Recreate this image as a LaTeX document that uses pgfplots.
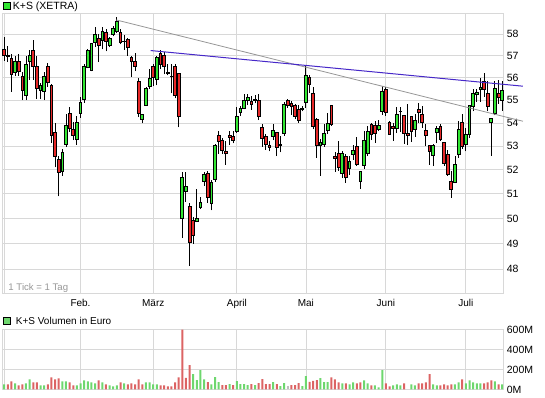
\documentclass[border=0pt]{standalone}
\usepackage{pgfplots}
\pgfplotsset{compat=1.18}
\usepackage{pgfplotstable}
\usepackage{fontspec}
\setmainfont{Liberation Sans}

\definecolor{cgreen}{RGB}{50,230,50}
\definecolor{cred}{RGB}{230,40,40}
\definecolor{vgreen}{RGB}{110,215,110}
\definecolor{vred}{RGB}{220,100,100}
\definecolor{vgray}{RGB}{190,190,190}
\definecolor{gridc}{RGB}{216,216,216}
\definecolor{blueline}{RGB}{70,40,200}
\definecolor{grayline}{RGB}{150,150,150}

% volume in million euro
\pgfplotstableread{
x v
0 51
3 61
6 61
7 102
10 41
11 41
16 81
17 81
20 41
21 61
22 92
23 81
24 71
25 61
27 71
29 41
30 31
31 41
33 61
39 71
40 71
41 51
42 51
52 153
53 93
54 193
55 100
57 50
58 123
59 73
62 53
64 83
65 53
66 53
67 43
69 43
74 73
76 33
77 63
82 33
83 133
87 113
88 73
89 73
93 61
95 51
96 71
99 92
100 61
102 41
103 20
104 193
107 41
108 51
109 41
112 51
113 41
118 51
119 41
124 51
125 71
127 61
128 92
129 71
130 61
131 61
135 81
137 51
}\volG

\pgfplotstableread{
x v
1 51
2 81
4 41
5 51
8 71
9 71
12 51
13 122
14 102
15 112
18 71
19 41
26 92
28 51
32 71
34 51
35 61
36 51
37 102
38 51
43 41
44 41
45 31
46 31
47 71
48 122
49 598
50 117
51 243
56 73
60 43
61 43
63 43
68 53
70 63
71 103
72 53
73 53
75 53
79 43
80 43
81 63
84 77
85 87
86 93
90 122
91 102
92 71
94 61
97 61
98 71
101 41
105 61
106 31
110 61
114 61
115 61
116 71
117 153
120 41
121 51
122 41
123 51
126 102
132 61
133 71
134 92
136 51
}\volR

\pgfplotstableread{
x v
78 33
}\volY

% one candle: colour, x, open, high, low, close
\newcommand\cndl[6]{%
  \pgfmathsetmacro\xa{#2-0.38}\pgfmathsetmacro\xb{#2+0.38}%
  \edef\temp{\noexpand\addplot[black, line width=0.9pt, mark=none, forget plot] coordinates {(#2,#5) (#2,#4)};%
    \noexpand\addplot[draw=black, fill=#1, line width=0.9pt, mark=none, forget plot] coordinates {(\xa,#3) (\xb,#3) (\xb,#6) (\xa,#6)} -- cycle;}%
  \temp}
\newcommand\cu[5]{\cndl{cgreen}{#1}{#2}{#3}{#4}{#5}}
\newcommand\cd[5]{\cndl{cred}{#1}{#2}{#3}{#4}{#5}}

\begin{document}
\begin{tikzpicture}[x=1pt,y=1pt]
\path (0,0) rectangle (545,398);

\begin{axis}[
  at={(2pt,105pt)}, anchor=south west,
  scale only axis, width=501.3pt, height=280pt,
  xmin=-0.6, xmax=137.3,
  ymode=log, ymin=47.09, ymax=59.0,
  clip=false,
  ytick={48,49,50,51,52,53,54,55,56,57,58},
  yticklabels={48,49,50,51,52,53,54,55,56,57,58},
  yticklabel pos=right,
  xtick={0,21,41,64,83,105,127},
  xticklabels={,Feb.,März,April,Mai,Juni,Juli},
  major tick length=0pt, tick style={draw=none},
  grid=major, major grid style={draw=gridc, line width=0.8pt},
  axis line style={draw=gridc, line width=0.8pt},
  yticklabel style={font=\fontsize{10.5}{12}\selectfont, text=black},
  xticklabel style={font=\fontsize{10}{12}\selectfont, text=black, yshift=-3pt, text height=7.5pt, text depth=2pt},
]
% x open high low close
\cd{0}{57.28}{57.85}{56.76}{57.03}
\cd{1}{57.00}{57.46}{56.71}{56.95}
\cd{2}{56.88}{57.10}{55.38}{56.14}
\cu{3}{56.23}{57.00}{56.07}{56.74}
\cd{4}{56.74}{57.10}{56.07}{56.30}
\cd{5}{56.05}{56.26}{55.00}{55.45}
\cu{6}{55.20}{57.00}{55.00}{56.60}
\cu{7}{56.76}{57.25}{55.90}{57.00}
\cd{8}{57.25}{57.75}{55.90}{56.50}
\cd{9}{56.53}{57.00}{55.05}{55.50}
\cu{10}{55.45}{55.75}{55.05}{55.65}
\cu{11}{55.38}{56.26}{55.00}{56.05}
\cd{12}{56.50}{56.65}{55.60}{55.80}
\cd{13}{55.65}{55.70}{53.15}{53.47}
\cd{14}{53.60}{54.00}{52.10}{52.54}
\cd{15}{52.42}{52.60}{50.90}{51.89}
\cu{16}{51.93}{52.87}{51.75}{52.75}
\cu{17}{53.07}{54.38}{52.97}{53.91}
\cd{18}{54.43}{54.70}{53.62}{53.74}
\cd{19}{53.70}{54.03}{53.26}{53.47}
\cu{20}{53.29}{54.29}{53.06}{54.00}
\cu{21}{54.40}{55.15}{54.22}{54.91}
\cu{22}{55.03}{56.60}{54.89}{56.50}
\cu{23}{56.45}{57.31}{56.42}{57.24}
\cu{24}{56.32}{57.60}{56.29}{57.55}
\cu{25}{57.60}{58.36}{57.40}{58.00}
\cd{26}{57.79}{58.03}{56.71}{57.48}
\cu{27}{57.70}{58.36}{57.30}{58.15}
\cd{28}{58.06}{58.25}{57.20}{57.66}
\cu{29}{57.48}{57.88}{57.40}{57.80}
\cu{30}{57.98}{58.40}{57.90}{58.25}
\cu{31}{58.13}{58.80}{58.06}{58.60}
\cd{32}{58.07}{58.25}{57.52}{57.63}
\cd{33}{57.68}{57.95}{57.28}{57.66}
\cd{34}{57.73}{57.80}{57.00}{57.39}
\cd{35}{56.91}{56.98}{56.05}{56.76}
\cd{36}{56.74}{57.14}{56.30}{56.50}
\cd{37}{55.85}{55.97}{54.25}{54.40}
\cu{38}{54.13}{54.40}{53.98}{54.35}
\cu{39}{54.78}{55.58}{54.74}{55.50}
\cu{40}{55.63}{56.40}{55.49}{55.97}
\cd{41}{56.50}{56.60}{55.65}{56.03}
\cu{42}{55.90}{57.00}{55.66}{56.94}
\cd{43}{57.09}{57.25}{56.38}{56.60}
\cd{44}{57.02}{57.16}{56.15}{56.53}
\cd{45}{56.25}{56.60}{56.10}{56.20}
\cd{46}{56.08}{56.60}{55.30}{56.05}
\cd{47}{56.50}{56.60}{55.08}{55.20}
\cd{48}{56.18}{56.20}{53.80}{54.27}
\cu{49}{50.00}{51.92}{49.22}{51.68}
\cu{50}{51.10}{51.92}{50.67}{51.30}
\cd{51}{50.48}{50.64}{48.14}{49.06}
\cd{52}{49.94}{50.04}{49.00}{49.32}
\cu{53}{49.87}{51.20}{49.85}{50.01}
\cu{54}{50.43}{50.88}{50.38}{50.66}
\cu{55}{51.52}{51.89}{51.33}{51.79}
\cd{56}{51.86}{51.96}{50.64}{50.84}
\cu{57}{50.60}{51.58}{50.33}{51.49}
\cu{58}{51.58}{53.10}{51.50}{53.04}
\cd{59}{53.47}{53.63}{52.66}{53.18}
\cd{60}{53.22}{53.34}{52.66}{52.82}
\cd{61}{52.78}{53.24}{52.20}{52.69}
\cd{62}{53.47}{53.63}{53.04}{53.37}
\cd{63}{53.40}{53.63}{53.12}{53.25}
\cu{64}{53.65}{54.70}{53.56}{54.26}
\cu{65}{54.47}{54.74}{54.29}{54.62}
\cu{66}{54.65}{55.26}{54.59}{55.00}
\cu{67}{54.97}{55.26}{54.78}{55.12}
\cd{68}{54.94}{55.18}{54.58}{54.80}
\cu{69}{55.00}{55.23}{54.85}{55.02}
\cd{70}{55.00}{55.26}{54.12}{54.26}
\cd{71}{53.79}{53.97}{52.97}{53.31}
\cd{72}{53.40}{53.53}{52.85}{53.07}
\cd{73}{53.04}{53.21}{52.78}{52.95}
\cu{74}{53.40}{53.93}{53.26}{53.66}
\cd{75}{53.59}{53.62}{52.57}{52.95}
\cu{76}{53.03}{53.44}{52.73}{53.06}
\cu{77}{53.53}{54.93}{53.44}{54.80}
\cd{78}{54.98}{55.03}{54.67}{54.78}
\cd{79}{54.85}{54.96}{54.35}{54.70}
\cd{80}{54.77}{54.83}{54.15}{54.28}
\cd{81}{54.57}{54.78}{54.00}{54.10}
\cu{82}{54.60}{54.76}{54.50}{54.62}
\cu{83}{54.88}{56.56}{54.65}{56.10}
\cd{84}{56.00}{56.14}{55.31}{55.72}
\cd{85}{55.31}{55.58}{53.72}{53.84}
\cd{86}{54.14}{54.22}{52.50}{53.04}
\cu{87}{53.01}{53.31}{51.74}{53.15}
\cu{88}{53.07}{53.93}{52.97}{53.56}
\cu{89}{53.66}{54.44}{53.51}{53.96}
\cd{90}{54.77}{54.78}{53.88}{53.92}
\cd{91}{52.57}{52.73}{51.92}{52.46}
\cd{92}{52.70}{53.20}{51.96}{52.08}
\cu{93}{51.85}{52.81}{51.66}{52.70}
\cd{94}{52.54}{52.65}{51.46}{51.66}
\cu{95}{52.05}{52.57}{51.80}{52.36}
\cu{96}{52.66}{53.04}{52.43}{52.83}
\cd{97}{52.97}{53.38}{52.16}{52.22}
\cu{98}{51.52}{51.96}{51.20}{51.93}
\cu{99}{52.16}{53.63}{52.05}{53.24}
\cu{100}{52.68}{53.88}{52.57}{53.63}
\cd{101}{53.93}{54.00}{53.26}{53.49}
\cd{102}{53.88}{54.07}{53.15}{53.56}
\cu{103}{53.71}{54.14}{53.63}{53.90}
\cu{104}{54.50}{55.62}{54.36}{55.38}
\cd{105}{55.46}{55.58}{54.30}{54.47}
\cd{106}{54.00}{54.07}{53.48}{53.51}
\cd{107}{53.86}{54.00}{53.22}{53.76}
\cu{108}{53.78}{54.71}{53.56}{54.38}
\cu{109}{54.50}{54.71}{53.60}{54.52}
\cd{110}{54.31}{54.35}{53.09}{53.56}
\cd{111}{53.56}{54.81}{53.04}{53.46}
\cd{112}{54.26}{54.31}{53.19}{53.63}
\cu{113}{53.71}{54.39}{53.41}{54.10}
\cd{114}{54.57}{54.86}{54.00}{54.47}
\cd{115}{54.39}{54.74}{53.78}{54.00}
\cd{116}{53.69}{53.93}{52.99}{53.44}
\cd{117}{53.04}{53.06}{52.22}{52.77}
\cu{118}{52.61}{53.11}{52.15}{53.04}
\cu{119}{53.59}{53.88}{53.12}{53.74}
\cd{120}{53.85}{53.93}{53.24}{53.29}
\cd{121}{53.16}{53.19}{52.16}{52.25}
\cd{122}{52.66}{52.84}{51.74}{51.79}
\cd{123}{51.51}{51.93}{50.84}{51.20}
\cu{124}{51.48}{52.57}{51.44}{52.23}
\cu{125}{52.66}{54.07}{52.50}{53.71}
\cd{126}{54.00}{54.39}{52.88}{53.00}
\cu{127}{53.09}{53.78}{52.78}{53.49}
\cu{128}{53.49}{54.79}{53.34}{54.76}
\cu{129}{54.72}{55.49}{54.50}{55.28}
\cu{130}{55.26}{55.49}{54.93}{55.34}
\cu{131}{55.49}{55.97}{54.93}{55.55}
\cd{132}{55.85}{56.23}{55.15}{55.49}
\cd{133}{55.31}{55.85}{54.50}{54.74}
\cu{134}{54.00}{54.21}{52.60}{54.21}
\cu{135}{54.40}{55.85}{54.33}{55.51}
\cd{136}{55.31}{55.92}{54.83}{55.12}
\cu{137}{55.00}{55.85}{54.54}{55.42}
% trend lines
\addplot[grayline, line width=0.8pt, mark=none] coordinates {(30.76,58.67) (142.7,54.07)};
\addplot[blueline, line width=1pt, mark=none] coordinates {(40.3,57.24) (142.7,55.62)};
\end{axis}

\begin{axis}[
  at={(2pt,8.5pt)}, anchor=south west,
  scale only axis, width=501.3pt, height=60pt,
  xmin=-0.6, xmax=137.3,
  ymin=0, ymax=600,
  ytick={0,200,400,600},
  yticklabels={0M,200M,400M,600M},
  yticklabel pos=right,
  xtick={0,21,41,64,83,105,127},
  xticklabels={,,,,,,},
  major tick length=0pt, tick style={draw=none},
  grid=major, major grid style={draw=gridc, line width=0.8pt},
  axis line style={draw=gridc, line width=0.8pt},
  yticklabel style={font=\fontsize{10.5}{12}\selectfont, text=black},
]
\addplot[ybar, bar width=2pt, bar shift=0pt, fill=vgreen, draw=none] table[x=x,y=v] {\volG};
\addplot[ybar, bar width=2pt, bar shift=0pt, fill=vred, draw=none] table[x=x,y=v] {\volR};
\addplot[ybar, bar width=2pt, bar shift=0pt, fill=vgray, draw=none] table[x=x,y=v] {\volY};
\end{axis}

% legends and notes
\draw[black, fill=cgreen, line width=0.6pt] (3.6,388.2) rectangle (10.6,395.2);
\node[anchor=base west, inner sep=0pt, font=\fontsize{10.5}{12}\selectfont] at (12.7,388) {K+S (XETRA)};
\draw[black, fill=vgreen, line width=0.6pt] (3.6,73.2) rectangle (10.6,80.2);
\node[anchor=base west, inner sep=0pt, font=\fontsize{10}{12}\selectfont] at (15.7,73) {K+S Volumen in Euro};
\node[anchor=base west, inner sep=0pt, text=grayline, font=\fontsize{9.6}{12}\selectfont] at (8.3,107.3) {1 Tick = 1 Tag};
\end{tikzpicture}
\end{document}
